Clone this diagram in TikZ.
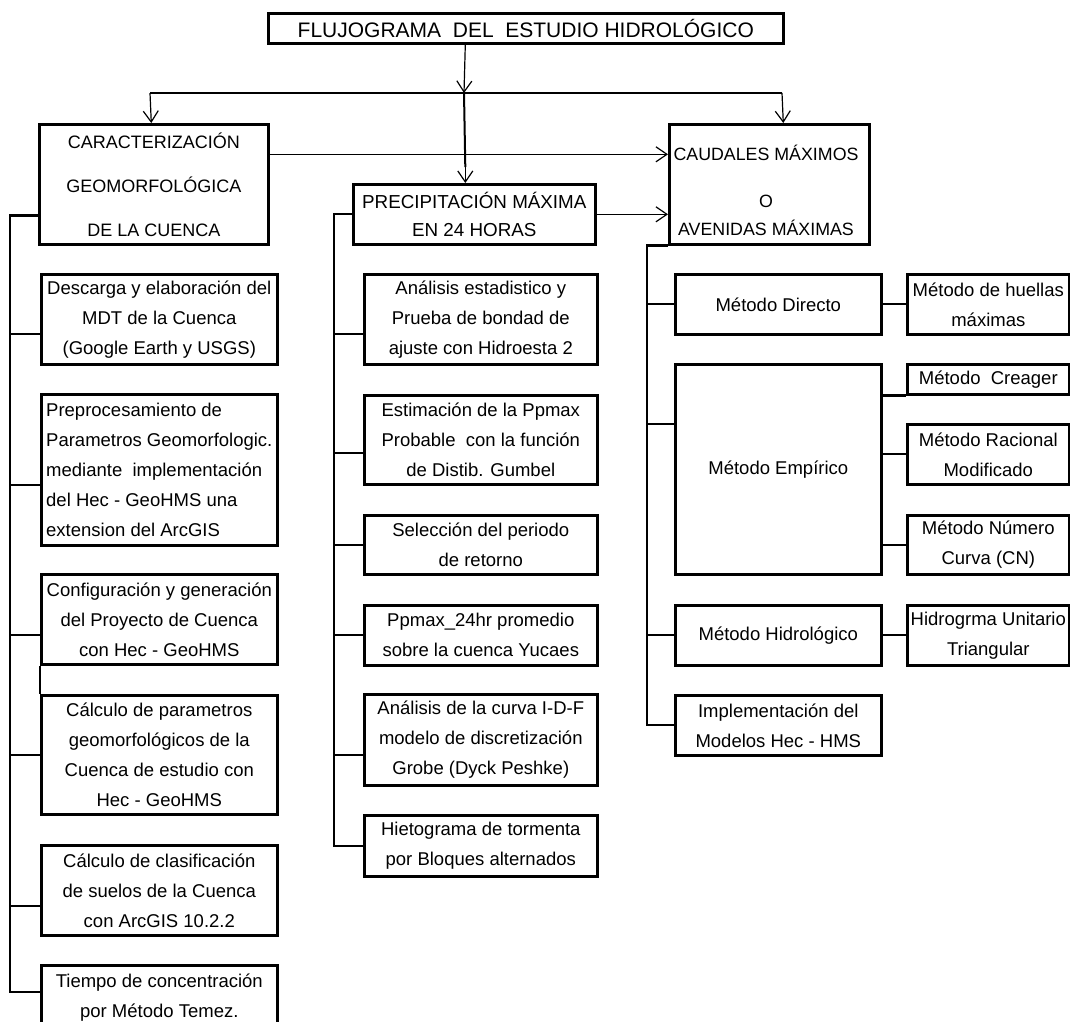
\documentclass[tikz,border=0pt]{standalone}
\usepackage{fontspec}
\setmainfont{Liberation Sans}
\usetikzlibrary{arrows.meta}
\begin{document}
\begin{tikzpicture}[x=1pt,y=-1pt,
 box/.style={draw, line width=2.6pt, rectangle, anchor=north west, inner sep=0pt, align=center, font=\fontsize{18.5}{30}\selectfont},
 conn/.style={line width=2.3pt},
 bar/.style={line width=2pt},
 arr/.style={line width=1.2pt, -{Straight Barb[length=11pt,width=15pt]}},
]
\useasboundingbox (0,0) rectangle (1070,1021);
% top level
\node[box, minimum width=515pt, minimum height=30pt, font=\fontsize{21}{26}\selectfont] (title) at (267,12) {FLUJOGRAMA\ \ DEL\ \ ESTUDIO HIDROL\'OGICO};
\node[box, minimum width=229pt, minimum height=120pt, font=\fontsize{18}{44}\selectfont] (car) at (38,123) {CARACTERIZACI\'ON\\GEOMORFOL\'OGICA\\DE LA CUENCA};
\node[box, minimum width=242pt, minimum height=60pt, font=\fontsize{18.8}{28}\selectfont] (pre) at (352,183) {PRECIPITACI\'ON M\'AXIMA\\EN 24 HORAS};
\node[box, minimum width=200pt, minimum height=120pt] (cau) at (668,123) {};
\node[align=center, inner sep=0pt, font=\fontsize{17.8}{28}\selectfont] (cauT) at (766,190.5) {CAUDALES M\'AXIMOS\\[19pt]O\\AVENIDAS M\'AXIMAS};
% left column
\node[box, minimum width=236pt, minimum height=90pt] (l1) at (40,273) {Descarga y elaboraci\'on del\\MDT de la Cuenca\\(Google Earth y USGS)};
\node[box, minimum width=236pt, minimum height=151pt, align=left] (l2) at (40,393) {Preprocesamiento de\\Parametros Geomorfologic.\\mediante\ \ implementaci\'on\\del Hec - GeoHMS una\\extension del ArcGIS};
\node[box, minimum width=236pt, minimum height=90pt] (l3) at (40,573) {Configuraci\'on y generaci\'on\\del Proyecto de Cuenca\\con Hec - GeoHMS};
\node[box, minimum width=236pt, minimum height=119pt] (l4) at (40,694) {C\'alculo de parametros\\geomorfol\'ogicos de la\\Cuenca de estudio con\\Hec - GeoHMS};
\node[box, minimum width=236pt, minimum height=90pt] (l5) at (40,844) {C\'alculo de clasificaci\'on\\de suelos de la Cuenca\\con ArcGIS 10.2.2};
\node[box, minimum width=236pt, minimum height=64pt] (l6) at (40,964) {Tiempo de concentraci\'on\\por M\'etodo Temez.};
% center column
\node[box, minimum width=233pt, minimum height=90pt] (c1) at (363,273) {An\'alisis estadistico y\\Prueba de bondad de\\ajuste con Hidroesta 2};
\node[box, minimum width=233pt, minimum height=89pt] (c2) at (363,394) {Estimaci\'on de la Ppmax\\Probable\ \ con la funci\'on\\de Distib. Gumbel};
\node[box, minimum width=233pt, minimum height=59pt] (c3) at (363,514) {Selecci\'on del periodo\\de retorno};
\node[box, minimum width=233pt, minimum height=60pt] (c4) at (363,604) {Ppmax\_24hr promedio\\sobre la cuenca Yucaes};
\node[box, minimum width=233pt, minimum height=91pt] (c5) at (363,693) {An\'alisis de la curva I-D-F\\modelo de discretizaci\'on\\Grobe (Dyck Peshke)};
\node[box, minimum width=233pt, minimum height=61pt] (c6) at (363,814) {Hietograma de tormenta\\por Bloques alternados};
% right column
\node[box, minimum width=206pt, minimum height=60pt] (r1) at (674,273) {M\'etodo Directo};
\node[box, minimum width=206pt, minimum height=210pt] (r2) at (674,363) {M\'etodo Emp\'irico};
\node[box, minimum width=206pt, minimum height=60pt] (r3) at (674,604) {M\'etodo Hidrol\'ogico};
\node[box, minimum width=206pt, minimum height=60pt] (r4) at (674,694) {Implementaci\'on del\\Modelos Hec - HMS};
\node[box, minimum width=162pt, minimum height=60pt] (f1) at (906,273) {M\'etodo de huellas\\m\'aximas};
\node[box, minimum width=162pt, minimum height=30pt] (f2) at (906,363) {M\'etodo\ \ Creager};
\node[box, minimum width=162pt, minimum height=60pt] (f3) at (906,423) {M\'etodo Racional\\Modificado};
\node[box, minimum width=162pt, minimum height=59pt] (f4) at (906,514) {M\'etodo N\'umero\\Curva (CN)};
\node[box, minimum width=162pt, minimum height=60pt] (f5) at (906,604) {Hidrogrma Unitario\\Triangular};
% top arrows
\coordinate (hub) at (464,93);
\coordinate (hubL) at (150,93);
\coordinate (hubR) at (782,93);
\draw[bar] (hubL) -- (hubR);
\draw[arr] ([xshift=-60.5pt]title.south) -- (hub);
\draw[arr] (hubL) -- ([xshift=-2.5pt]car.north);
\draw[arr] (hubR) -- ([xshift=14pt]cau.north);
\draw[bar] (hub) -- ([xshift=-9pt,yshift=16pt]pre.north);
\draw[arr] ([xshift=-9pt,yshift=18pt]pre.north) -- ([xshift=-9pt]pre.north);
\draw[arr] ([yshift=30pt]car.east) -- ([yshift=30pt]cau.west);
\draw[arr] (pre.east) -- ([yshift=-30pt]cau.west);
% left connectors
\draw[conn] ([yshift=30pt]car.south west) -- ++(-28,0) |- ([yshift=-28pt]l6.north west);
\draw[conn] ([yshift=-15pt]l1.west) -- ++(-30,0);
\draw[conn] ([yshift=-15.5pt]l2.west) -- ++(-30,0);
\draw[conn] ([yshift=-16pt]l3.west) -- ++(-30,0);
\draw[conn] (l4.west) -- ++(-30,0);
\draw[conn] ([yshift=-16pt]l5.west) -- ++(-30,0);
\draw[line width=2.6pt] (l3.south west) -- (l4.north west);
% center connectors
\draw[conn] (pre.west) -- ++(-18,0) |- (c6.west);
\draw[conn] ([yshift=-15pt]c1.west) -- ++(-29,0);
\draw[conn] ([yshift=-13.5pt]c2.west) -- ++(-29,0);
\draw[conn] (c3.west) -- ++(-29,0);
\draw[conn] (c4.west) -- ++(-29,0);
\draw[conn] ([yshift=-15.5pt]c5.west) -- ++(-29,0);
% right connectors
\draw[conn] (cau.south west) -- ++(-21,0) |- (r4.west);
\draw[conn] (r1.west) -- ++(-27,0);
\draw[conn] ([yshift=45pt]r2.west) -- ++(-27,0);
\draw[conn] (r3.west) -- ++(-27,0);
\draw[conn] (r1.east) -- (f1.west);
\draw[conn] (r2.east |- f2.south west) -- (f2.south west);
\draw[conn] (r2.east |- f3.west) -- (f3.west);
\draw[conn] (r2.east |- f4.west) -- (f4.west);
\draw[conn] (r3.east) -- (f5.west);
\end{tikzpicture}
\end{document}
